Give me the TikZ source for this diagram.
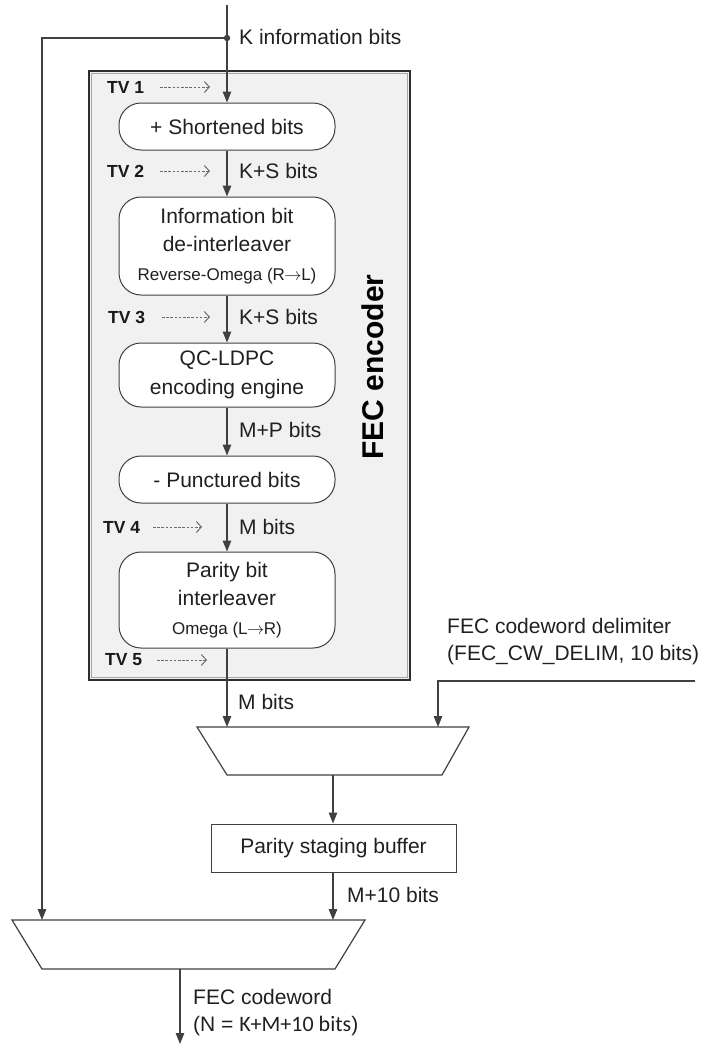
\documentclass[tikz,border=0pt]{standalone}
\usepackage{fontspec}
\setmainfont{Liberation Sans}
\newfontfamily\calib{Carlito}
\usetikzlibrary{arrows.meta}
\definecolor{lc}{HTML}{404040}
\definecolor{tc}{HTML}{202020}
\definecolor{encfill}{HTML}{F1F1F1}
\newcommand{\shortarr}{\kern-0.5pt\raisebox{0.3pt}{$\rightarrow$}\kern-0.5pt}
\begin{document}
\begin{tikzpicture}[x=1pt,y=-1pt,
  wire/.style={draw=lc, line width=1.3pt},
  arr/.style={wire, -{Triangle[length=11pt,width=8.5pt]}},
  rbox/.style={draw=lc, fill=white, rounded corners=22pt, line width=1pt, minimum width=216pt, align=center, inner sep=0pt, text=tc, font=\fontsize{21}{28.5}\selectfont},
  sbox/.style={draw=lc, fill=white, line width=1pt, align=center, inner sep=0pt, text=tc, font=\fontsize{21}{25}\selectfont},
  lbl/.style={anchor=west, inner sep=0pt, text=tc, font=\fontsize{21}{27}\selectfont, align=left},
  tvlbl/.style={anchor=west, inner sep=0pt, text=black!90, font=\bfseries\fontsize{17.5}{20}\selectfont},
  tvarr/.style={draw=gray!85!black, dash pattern=on 2.6pt off 1.6pt, line width=1pt, -{Straight Barb[length=5pt,width=11pt,line width=1pt]}},
  mux/.style={draw=lc, fill=white, line width=1.2pt}
]
\useasboundingbox (0,0) rectangle (708,1044);

% encoder frame
\draw[draw=gray!35!black, fill=encfill, line width=2.2pt] (89,71) rectangle (410,680);
\draw[draw=gray!70, line width=0.8pt] (91.5,73.5) rectangle (407.5,677.5);
\node[rotate=90, text=black, font=\bfseries\fontsize{30}{32}\selectfont] (enc) at (373,367) {FEC encoder};

% blocks
\node[rbox, minimum height=47pt] (sb) at (227,126.5) {+ Shortened bits};
\node[rbox, minimum height=98pt] (ib) at (227,246) {Information bit\\de-interleaver\\{\fontsize{17}{20}\selectfont Reverse-Omega (R\shortarr L)}};
\node[rbox, minimum height=64pt] (qc) at (227,375) {QC-LDPC\\encoding engine};
\node[rbox, minimum height=47pt] (pb) at (227,479.5) {- Punctured bits};
\node[rbox, minimum height=96pt] (pi) at (227,600) {Parity bit\\interleaver\\{\fontsize{17}{20}\selectfont Omega (L\shortarr R)}};
\node[sbox, minimum width=245pt, minimum height=48pt] (buf) at (333.5,848) {Parity staging buffer};

% muxes
\draw[mux] (197,727) -- (469,727) -- (442,775) -- (227,775) -- cycle;
\draw[mux] (12,920) -- (365,920) -- (335,969) -- (42,969) -- cycle;
\coordinate (m1a) at (227,727);
\coordinate (m1b) at (438,727);
\coordinate (m1o) at (333,775);
\coordinate (m2a) at (42,920);
\coordinate (m2b) at (333,920);
\coordinate (m2o) at (180,969);
\coordinate (out) at (180,1044);

% inputs
\coordinate (top) at (227,5);
\coordinate (j) at (227,38);
\coordinate (jl) at (42,38);
\coordinate (dr) at (695,681);
\coordinate (dl) at (438,681);

% connectors
\draw[arr] (top) -- (sb.north);
\fill[lc] (j) circle (3.2pt);
\draw[arr] (j) -- (jl) -- (m2a);
\draw[arr] (sb.south) -- (ib.north);
\draw[arr] (ib.south) -- (qc.north);
\draw[arr] (qc.south) -- (pb.north);
\draw[arr] (pb.south) -- (pi.north);
\draw[arr] (pi.south) -- (m1a);
\draw[arr] (dr) -- (dl) -- (m1b);
\draw[arr] (m1o) -- (buf.north -| m1o);
\draw[arr] (buf.south -| m2b) -- (m2b);
\draw[arr] (m2o) -- (out);

% labels
\node[lbl] (lk) at (239,37) {K information bits};
\node[lbl] (l1) at (239,171) {K+S bits};
\node[lbl] (l2) at (239,317) {K+S bits};
\node[lbl] (l3) at (239,430) {M+P bits};
\node[lbl] (l4) at (239,527) {M bits};
\node[lbl] (l5) at (238,702) {M bits};
\node[lbl] (l6) at (347,895) {M+10 bits};
\node[lbl, anchor=north west] (ld) at (447,618) {FEC codeword delimiter\\(FEC\_CW\_DELIM, 10 bits)};
\node[lbl, anchor=north west] (lo) at (193,989) {FEC codeword\\(N = {\calib\fontsize{22}{27}\selectfont K+M+10 bits})};

% test vector markers
\node[tvlbl] (tv1) at (107,87) {TV 1};
\node[tvlbl] (tv2) at (107,171) {TV 2};
\node[tvlbl] (tv3) at (108,317) {TV 3};
\node[tvlbl] (tv4) at (103,527) {TV 4};
\node[tvlbl] (tv5) at (105,660) {TV 5};
\draw[tvarr] (tv1.east -| 160,0) -- (tv1.east -| 210,0);
\draw[tvarr] (tv2.east -| 160,0) -- (tv2.east -| 210,0);
\draw[tvarr] (tv3.east -| 162,0) -- (tv3.east -| 210,0);
\draw[tvarr] (tv4.east -| 153,0) -- (tv4.east -| 202,0);
\draw[tvarr] (tv5.east -| 157,0) -- (tv5.east -| 207,0);
\end{tikzpicture}
\end{document}
